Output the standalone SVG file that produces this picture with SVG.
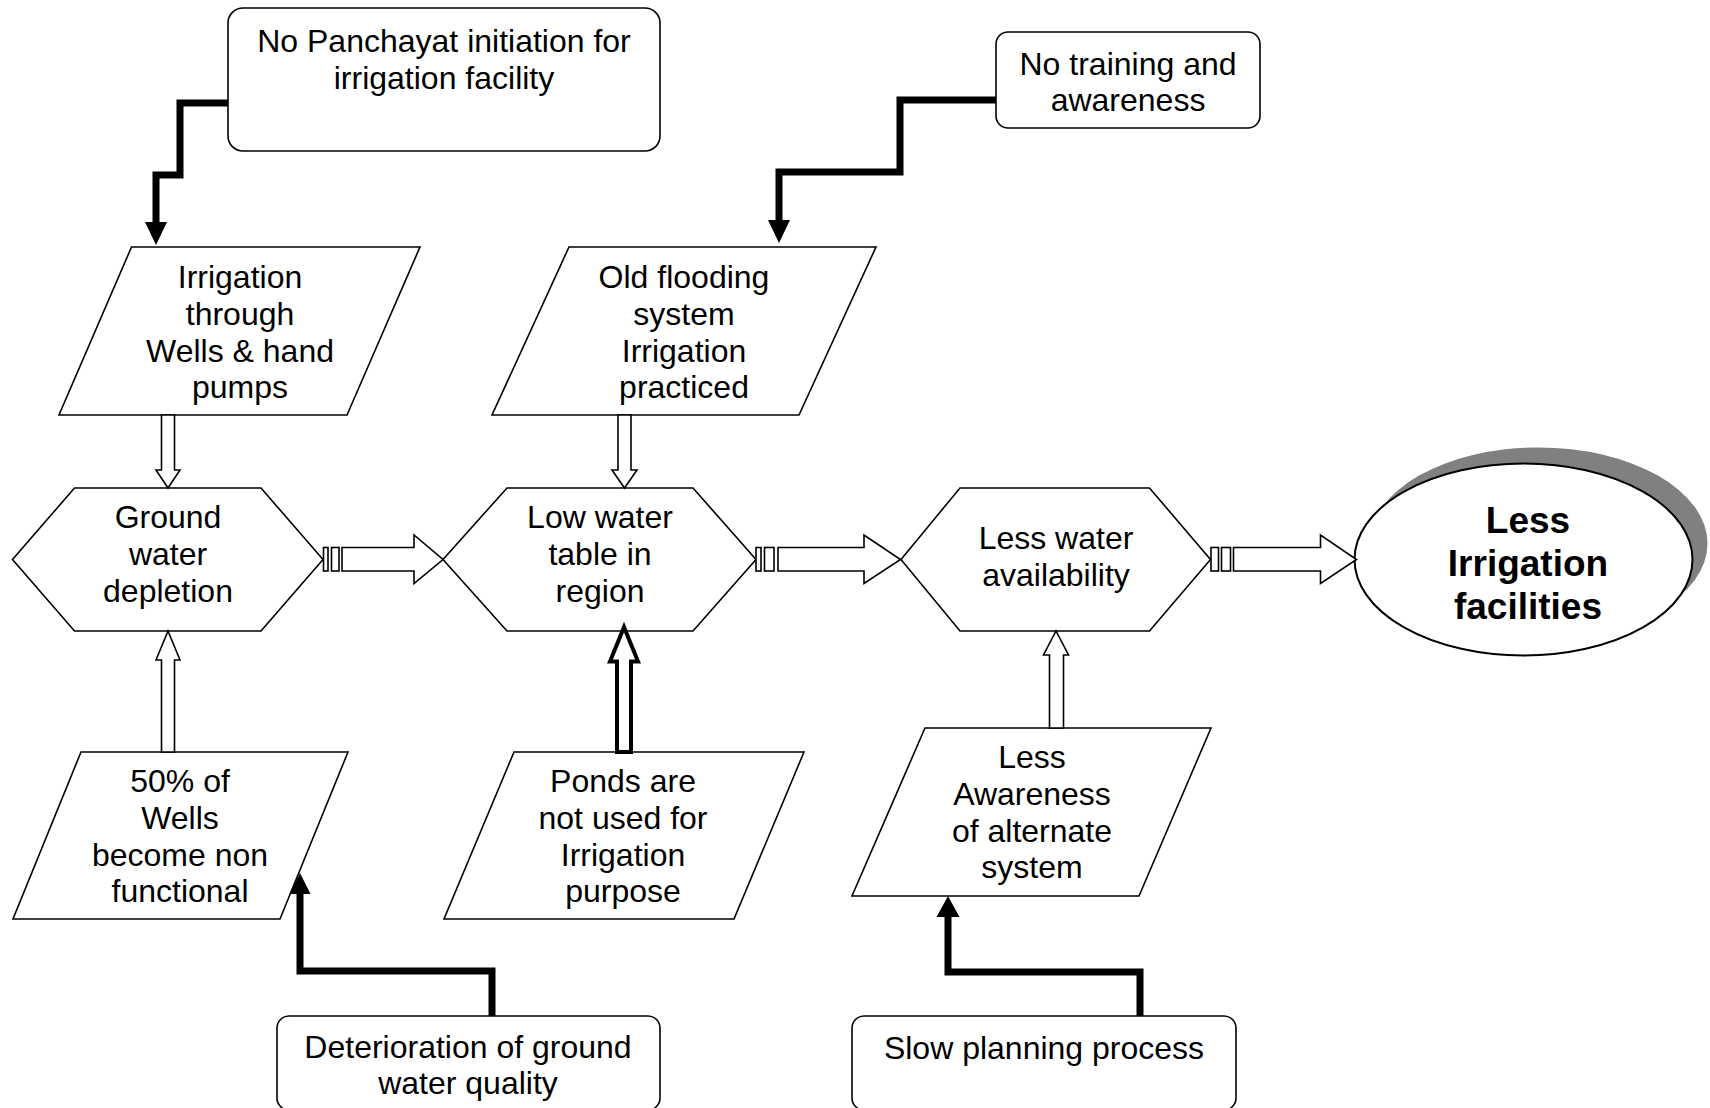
<svg xmlns="http://www.w3.org/2000/svg" width="1710" height="1108" viewBox="0 0 1710 1108">
  <style>
    .shape { fill: #ffffff; stroke: #000000; stroke-width: 1.6; stroke-linejoin: miter; }
    .lbl { font-family: "Liberation Sans", Arial, sans-serif; font-size: 32px; fill: #000000; text-anchor: middle; }
    .big { font-family: "Liberation Sans", Arial, sans-serif; font-size: 37px; font-weight: bold; fill: #000000; text-anchor: middle; }
    .elbow { fill: none; stroke: #000000; stroke-width: 7; stroke-linejoin: miter; stroke-linecap: butt; }
    .head { fill: #000000; stroke: none; }
    .hollow { fill: #ffffff; stroke: #000000; stroke-width: 1.6; stroke-linejoin: miter; }
    .hollow-bold { fill: #ffffff; stroke: #000000; stroke-width: 4; stroke-linejoin: miter; }
  </style>

  <rect width="1710" height="1108" fill="#ffffff"/>

  <!-- root causes -->
  <g id="no-panchayat">
    <rect class="shape" x="228" y="8" width="432" height="143" rx="15" ry="15"/>
    <text class="lbl" x="444" y="52">No Panchayat initiation for</text>
    <text class="lbl" x="444" y="89">irrigation facility</text>
  </g>

  <g id="no-training">
    <rect class="shape" x="996" y="32" width="264" height="96" rx="12" ry="12"/>
    <text class="lbl" x="1128" y="75">No training and</text>
    <text class="lbl" x="1128" y="111">awareness</text>
  </g>

  <!-- the two bottom boxes run past the lower edge of the page -->
  <g id="deterioration">
    <rect class="shape" x="277" y="1016" width="383" height="94" rx="12" ry="12"/>
    <text class="lbl" x="468" y="1058">Deterioration of ground</text>
    <text class="lbl" x="468" y="1094">water quality</text>
  </g>

  <g id="slow-planning">
    <rect class="shape" x="852" y="1016" width="384" height="94" rx="12" ry="12"/>
    <text class="lbl" x="1044" y="1059">Slow planning process</text>
  </g>

  <!-- intermediate causes -->
  <g id="wells-pumps">
    <polygon class="shape" points="131.5,247 420,247 347,415 59,415"/>
    <text class="lbl" x="240" y="288">Irrigation</text>
    <text class="lbl" x="240" y="324.8">through</text>
    <text class="lbl" x="240" y="361.6">Wells &amp; hand</text>
    <text class="lbl" x="240" y="398.4">pumps</text>
  </g>

  <g id="old-flooding">
    <polygon class="shape" points="569,247 876,247 799,415 492,415"/>
    <text class="lbl" x="684" y="288">Old flooding</text>
    <text class="lbl" x="684" y="324.8">system</text>
    <text class="lbl" x="684" y="361.6">Irrigation</text>
    <text class="lbl" x="684" y="398.4">practiced</text>
  </g>

  <g id="wells-nonfunctional">
    <polygon class="shape" points="81,752 348,752 280,919 13,919"/>
    <text class="lbl" x="180" y="792">50% of</text>
    <text class="lbl" x="180" y="828.8">Wells</text>
    <text class="lbl" x="180" y="865.6">become non</text>
    <text class="lbl" x="180" y="902.4">functional</text>
  </g>

  <g id="ponds-unused">
    <polygon class="shape" points="514,752 804,752 734,919 444,919"/>
    <text class="lbl" x="623" y="792">Ponds are</text>
    <text class="lbl" x="623" y="828.8">not used for</text>
    <text class="lbl" x="623" y="865.6">Irrigation</text>
    <text class="lbl" x="623" y="902.4">purpose</text>
  </g>

  <g id="less-awareness">
    <polygon class="shape" points="925,728 1211,728 1139,896 852,896"/>
    <text class="lbl" x="1032" y="768">Less</text>
    <text class="lbl" x="1032" y="804.8">Awareness</text>
    <text class="lbl" x="1032" y="841.6">of alternate</text>
    <text class="lbl" x="1032" y="878.4">system</text>
  </g>

  <!-- main chain -->
  <g id="ground-water-depletion">
    <polygon class="shape" points="12.5,559.5 74.5,488 261,488 323,559.5 261,631 74.5,631"/>
    <text class="lbl" x="168" y="528">Ground</text>
    <text class="lbl" x="168" y="564.8">water</text>
    <text class="lbl" x="168" y="601.6">depletion</text>
  </g>

  <g id="low-water-table">
    <polygon class="shape" points="443,559.5 507,488 693,488 756,559.5 693,631 507,631"/>
    <text class="lbl" x="600" y="528">Low water</text>
    <text class="lbl" x="600" y="564.8">table in</text>
    <text class="lbl" x="600" y="601.6">region</text>
  </g>

  <g id="less-water">
    <polygon class="shape" points="901,559.5 960,488 1149.5,488 1210.5,559.5 1149.5,631 960,631"/>
    <text class="lbl" x="1056" y="549">Less water</text>
    <text class="lbl" x="1056" y="585.8">availability</text>
  </g>

  <g id="less-irrigation">
    <ellipse cx="1538.5" cy="543.5" rx="169" ry="96" fill="#808080"/>
    <ellipse cx="1523.5" cy="559.5" rx="169" ry="96" fill="#ffffff" stroke="#000000" stroke-width="2"/>
    <text class="big" x="1528" y="533">Less</text>
    <text class="big" x="1528" y="576">Irrigation</text>
    <text class="big" x="1528" y="619">facilities</text>
  </g>

  <!-- connectors -->
  <g id="connectors">
    <!-- solid elbow links from root causes -->
    <path class="elbow" d="M228,103 H180 V175 H156 V223"/>
    <polygon class="head" points="145,222 167,222 156,245"/>

    <path class="elbow" d="M996,100 H900 V172 H779 V221"/>
    <polygon class="head" points="768,220 790,220 779,243"/>

    <path class="elbow" d="M492,1016 V971 H300 V893"/>
    <polygon class="head" points="289.5,894 310.5,894 300,873"/>

    <path class="elbow" d="M1140,1016 V972 H948 V916"/>
    <polygon class="head" points="936.5,917 959.5,917 948,896"/>

    <!-- hollow vertical arrows into the chain -->
    <polygon class="hollow" points="161.5,415 174.5,415 174.5,470 180,470 168,488 156,470 161.5,470"/>
    <polygon class="hollow" points="618,415 631,415 631,470 637,470 624.5,488 612,470 618,470"/>
    <polygon class="hollow" points="161.5,752 174.5,752 174.5,660 180,660 168,631 156,660 161.5,660"/>
    <polygon class="hollow-bold" points="617,752 631,752 631,661.5 638,661.5 624,627 610,661.5 617,661.5"/>
    <polygon class="hollow" points="1049.5,728 1063.5,728 1063.5,655 1068.5,655 1056,631 1043.5,655 1049.5,655"/>

    <!-- hollow horizontal arrows along the chain -->
    <rect class="hollow" x="323.5" y="547.5" width="4.5" height="23.5"/>
    <rect class="hollow" x="331.5" y="547.5" width="7.5" height="23.5"/>
    <polygon class="hollow" points="342,547.5 414,547.5 414,535 443,559.5 414,583.5 414,571 342,571"/>

    <rect class="hollow" x="756" y="547.5" width="5" height="23.5"/>
    <rect class="hollow" x="764.5" y="547.5" width="9.5" height="23.5"/>
    <polygon class="hollow" points="778,547.5 864,547.5 864,535 900.5,559.5 864,583.5 864,571 778,571"/>

    <rect class="hollow" x="1211" y="547.5" width="7.5" height="23.5"/>
    <rect class="hollow" x="1221.5" y="547.5" width="9" height="23.5"/>
    <polygon class="hollow" points="1233.5,547.5 1320.5,547.5 1320.5,535 1356.5,559.5 1320.5,583.5 1320.5,571 1233.5,571"/>
  </g>
</svg>
